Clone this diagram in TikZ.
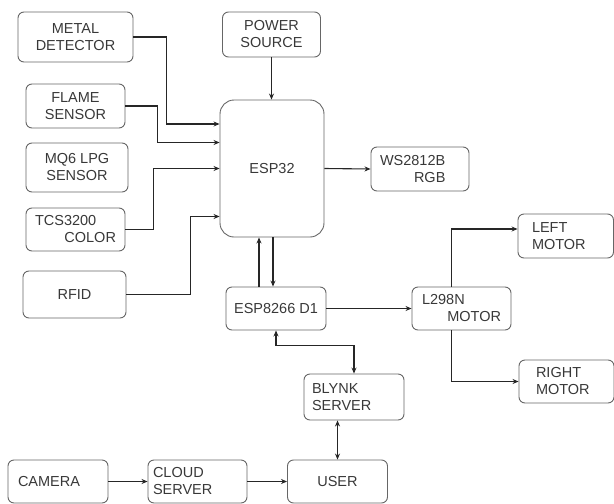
\documentclass[tikz,border=0pt]{standalone}
\usepackage{fontspec}
\setmainfont{Liberation Sans}
\usepackage{tikz}
\usetikzlibrary{arrows.meta}

\begin{document}
\begin{tikzpicture}[x=1pt,y=-1pt,
        blk/.style={draw=black!60,line width=0.9pt,rounded corners=6pt,text=black!78,
            font=\fontsize{14.5}{17}\selectfont,align=center,inner sep=0pt},
        link/.style={black!85,line width=1.1pt},
        >={Stealth[length=6pt,width=5pt]}]
    \useasboundingbox (0,0) rectangle (614,504);
        \node[blk,minimum width=115,minimum height=50] (metal) at (75.5,37) {METAL\\DETECTOR};
        \node[blk,minimum width=98,minimum height=45] (power) at (271.5,34.5) {POWER\\SOURCE};
        \node[blk,minimum width=99,minimum height=44] (flame) at (75.5,106) {FLAME\\SENSOR};
        \node[blk,minimum width=102,minimum height=49] (mq6) at (77,167.5) {MQ6 LPG\\SENSOR};
        \node[blk,minimum width=99,minimum height=43,text width=81,align=left] (tcs) at (75.5,229.5) {TCS3200\\\hspace*{\fill}COLOR};
        \node[blk,minimum width=103,minimum height=47] (rfid) at (74.5,294.5) {RFID};
        \node[blk,minimum width=104,minimum height=137,rounded corners=14pt] (esp) at (272,168.5) {ESP32};
        \node[blk,minimum width=98,minimum height=44,text width=80,align=left] (ws) at (420,169) {WS2812B\\\hspace*{34pt}RGB};
        \node[blk,minimum width=100,minimum height=43] (d1) at (276,308.5) {ESP8266 D1};
        \node[blk,minimum width=99,minimum height=43,text width=79,align=left] (l298) at (461.5,308.5) {L298N\\\hspace*{\fill}MOTOR};
        \node[blk,minimum width=95.5,minimum height=44,text width=67.5,align=left] (left) at (565.75,236) {LEFT\\MOTOR};
        \node[blk,minimum width=95,minimum height=43,text width=61,align=left] (right) at (566.5,381.5) {RIGHT\\MOTOR};
        \node[blk,minimum width=100,minimum height=46,text width=84,align=left] (blynk) at (354,397) {BLYNK\\SERVER};
        \node[blk,minimum width=100,minimum height=43,text width=80,align=left] (camera) at (58,481.5) {CAMERA};
        \node[blk,minimum width=99,minimum height=43,text width=89,align=left] (cloud) at (197.5,481.5) {CLOUD\\SERVER};
        \node[blk,minimum width=100,minimum height=43] (user) at (337.5,481.5) {USER};
        \draw[link,->] (metal.east) -- ++(33,0) |- ([yshift=44.5pt]esp.west);
        \draw[link,->] (flame.east) -- ++(32,0) |- ([yshift=26pt]esp.west);
        \draw[link,->] (tcs.east) -- ++(28,0) |- (esp.west);
        \draw[link,->] (rfid.east) -- ++(64,0) |- ([yshift=-48pt]esp.west);
        \draw[link,->] (power.south) -- (power.south |- esp.north);
        \draw[link,->] (esp.east) -- (ws.west);
        \draw[link,->] ([xshift=-13pt]esp.south |- d1.north) -- ([xshift=-13pt]esp.south);
        \draw[link,->] ([xshift=1pt]esp.south) -- ([xshift=1pt]esp.south |- d1.north);
        \draw[link,->] (d1.east) -- (l298.west);
        \draw[link,->] ([xshift=-10pt]l298.north) |- ([yshift=7pt]left.west);
        \draw[link,->] ([xshift=-10pt]l298.south) |- (right.west);
        \draw[link,<->] (d1.south) -- ++(0,15) -| (blynk.north);
        \draw[link,<->] (user.north |- blynk.south) -- (user.north);
        \draw[link,->] (camera.east) -- (cloud.west);
        \draw[link,->] (cloud.east) -- (user.west);
    \end{tikzpicture}
\end{document}
